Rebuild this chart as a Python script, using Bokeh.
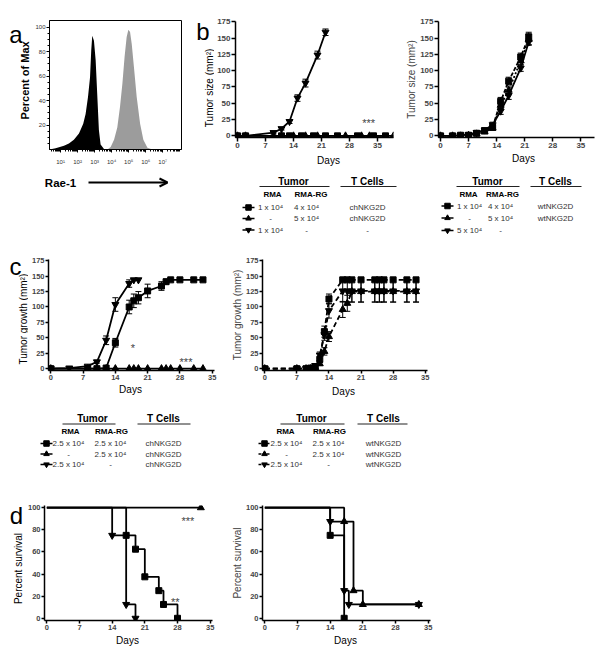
import math
from bokeh.plotting import figure
from bokeh.layouts import column, row
from bokeh.models import (Range1d, FixedTicker, Label, Arrow, OpenHead,
                          Whisker, TeeHead, ColumnDataSource)
from bokeh.embed import file_html
from bokeh.resources import INLINE
from bokeh.core.properties import value

FONT = "Liberation Sans"

# ---------------- data ----------------
# a: Rae-1 flow histogram (log10 fluorescence, % of max)
a_ctrl_log = [0.35, 0.71, 1.2, 1.49, 1.78, 2.08, 2.33, 2.47, 2.61, 2.73, 2.8, 2.86, 2.96, 3.06, 3.16, 3.25, 3.35, 3.55, 3.7]
a_ctrl_pct = [0, 1, 3, 5, 8, 13, 21, 29, 43, 59, 81, 93, 89, 73, 43, 16, 4, 0.5, 0]
a_rae_log = [3.75, 3.94, 4.14, 4.33, 4.49, 4.63, 4.76, 4.88, 4.98, 5.08, 5.18, 5.31, 5.47, 5.67, 5.86, 6.1, 6.39]
a_rae_pct = [0, 2, 8, 18, 35, 54, 76, 92, 98, 96, 86, 67, 43, 21, 8, 1.5, 0]
a_xticks = [1, 2, 3, 4, 5, 6, 7]
a_xlabels = ["10¹", "10²", "10³", "10⁴", "10⁵", "10⁶", "10⁷"]
a_yticks = [20, 40, 60, 80, 100]

day_ticks = [0, 7, 14, 21, 28, 35]
size_ticks = [0, 25, 50, 75, 100, 125, 150, 175]
surv_ticks = [0, 20, 40, 60, 80, 100]

# b left: chNKG2D
b1_sq_days = [0, 2, 11, 13, 16, 19, 22, 25, 30, 34, 37]
b1_sq_size = [0, 0, 0, 0, 0, 0, 0, 0, 0, 0, 0]
b1_up_days = [0, 2, 9, 11, 14, 17, 20, 27, 31, 33, 39]
b1_up_size = [0, 0, 0, 0, 0, 0, 0, 0, 0, 0, 0]
b1_dn_days = [0, 2, 9, 11, 13, 15, 17, 20, 22]
b1_dn_size = [0, 0, 5, 11, 22, 58, 81, 124, 159]
b1_dn_err = [0, 0, 2, 2, 3, 5, 6, 6, 5]

# b right: wtNKG2D
b2_days = [0, 3, 5, 7, 9, 11, 13, 15, 17, 20, 22]
b2_sq_size = [0, 0, 1, 1, 4, 8, 13, 53, 84, 121, 152]
b2_sq_err = [0, 0, 1, 1, 2, 3, 4, 6, 6, 6, 7]
b2_up_size = [0, 0, 0, 1, 3, 6, 12, 47, 70, 115, 148]
b2_up_err = [0, 0, 0, 1, 1, 2, 3, 5, 5, 6, 8]
b2_dn_size = [0, 0, 1, 2, 5, 9, 17, 38, 62, 104, 144]
b2_dn_err = [0, 0, 1, 1, 2, 3, 4, 5, 6, 5, 5]

# c left: chNKG2D
c1_sq_days = [0, 8, 10, 12, 14, 17, 18, 19, 21, 24, 25, 26, 28, 31, 33]
c1_sq_size = [0, 0, 0, 1, 42, 100, 110, 115, 126, 134, 141, 144, 144, 144, 144]
c1_sq_err = [0, 0, 0, 0, 7, 11, 11, 10, 11, 7, 4, 0, 0, 0, 0]
c1_dn_days = [0, 4, 8, 10, 12, 14, 17, 18, 19]
c1_dn_size = [0, 1, 4, 11, 46, 104, 138, 144, 144]
c1_dn_err = [0, 0, 1, 2, 7, 11, 6, 0, 0]
c1_up_days = [0, 8, 10, 12, 14, 17, 18, 19, 21, 24, 25, 26, 28, 31, 33]
c1_up_size = [0, 0, 0, 0, 0, 0, 0, 0, 0, 0, 0, 0, 0, 0, 0]

# c right: wtNKG2D
c2_days = [0, 7, 9, 10, 11, 12, 13, 14, 17, 18, 19, 21, 24, 25, 26, 28, 31, 33]
c2_sq_size = [0, 0, 0, 1, 3, 15, 60, 113, 144, 144, 144, 144, 144, 144, 144, 144, 144, 144]
c2_sq_err = [0, 0, 0, 1, 2, 5, 9, 8, 0, 0, 0, 0, 0, 0, 0, 0, 0, 0]
c2_dn_size = [0, 0, 0, 1, 5, 22, 55, 94, 126, 126, 126, 126, 126, 126, 126, 126, 126, 126]
c2_dn_err = [0, 0, 0, 1, 2, 5, 9, 12, 18, 18, 18, 18, 18, 18, 18, 18, 18, 18]
c2_up_size = [0, 0, 0, 0, 2, 8, 28, 52, 96, 106, 125, 125, 125, 125, 125, 125, 125, 125]
c2_up_err = [0, 0, 0, 0, 1, 3, 6, 8, 13, 13, 17, 17, 17, 17, 17, 17, 17, 17]

# d: survival
d1_sq_t = [0, 17, 19, 21, 24, 25, 28]
d1_sq_s = [100, 75, 62.5, 37.5, 25, 12.5, 0]
d1_up_t = [0, 33]
d1_up_s = [100, 100]
d1_dn_t = [0, 14, 17, 19]
d1_dn_s = [100, 75, 12.5, 0]
d2_sq_t = [0, 14, 17]
d2_sq_s = [100, 75, 0]
d2_dn_t = [0, 14, 17, 18, 33]
d2_dn_s = [100, 87.5, 25, 12.5, 12.5]
d2_up_t = [0, 17, 19, 21, 33]
d2_up_s = [100, 87.5, 25, 12.5, 12.5]

# legend tables
b_tab_left = [["1 x 10⁴", "4 x 10⁴", "chNKG2D"], ["-", "5 x 10⁴", "chNKG2D"], ["1 x 10⁴", "-", "-"]]
b_tab_right = [["1 x 10⁴", "4 x 10⁴", "wtNKG2D"], ["-", "5 x 10⁴", "wtNKG2D"], ["5 x 10⁴", "-", ""]]
c_tab_left = [["2.5 x 10⁴", "2.5 x 10⁴", "chNKG2D"], ["-", "2.5 x 10⁴", "chNKG2D"], ["2.5 x 10⁴", "-", "chNKG2D"]]
c_tab_right = [["2.5 x 10⁴", "2.5 x 10⁴", "wtNKG2D"], ["-", "2.5 x 10⁴", "wtNKG2D"], ["2.5 x 10⁴", "-", "wtNKG2D"]]
row_markers = ["square", "triangle", "inverted_triangle"]

# ---------------- helpers ----------------
GEO = {}


def chart(name, box, frame, xr, yr, xticks, yticks, ytitle=None, tick_size="8px",
          tick_out=4):
    bx, by, bw, bh = box
    L, T, R, B = frame
    p = figure(width=bw, height=bh, x_range=Range1d(*xr), y_range=Range1d(*yr),
               output_backend="svg", toolbar_location=None,
               min_border_left=L - bx, min_border_right=bx + bw - R,
               min_border_top=T - by, min_border_bottom=by + bh - B)
    p.outline_line_color = None
    p.xgrid.visible = False
    p.ygrid.visible = False
    for ax, t in ((p.xaxis, xticks), (p.yaxis, yticks)):
        ax.ticker = FixedTicker(ticks=t)
        ax.minor_tick_line_color = None
        ax.major_tick_in = 0
        ax.major_tick_out = tick_out
        ax.major_tick_line_width = 1.5
        ax.axis_line_width = 1.5
        ax.major_label_text_font = FONT
        ax.major_label_text_font_size = tick_size
        ax.major_label_text_font_style = "bold"
        ax.major_label_standoff = 1
    if ytitle:
        p.yaxis.axis_label = ytitle
        p.yaxis.axis_label_text_font = FONT
        p.yaxis.axis_label_text_font_size = "10px"
        p.yaxis.axis_label_text_font_style = "normal"
        p.yaxis.axis_label_standoff = 0
    GEO[name] = (L, T, R, B, xr, yr)
    return p


def to_data(name, rx, ry):
    L, T, R, B, xr, yr = GEO[name]
    x = xr[0] + (rx - L) * (xr[1] - xr[0]) / (R - L)
    y = yr[0] + (B - ry) * (yr[1] - yr[0]) / (B - T)
    return x, y


def put(p, name, rx, ry, text, size):
    x, y = to_data(name, rx, ry)
    p.add_layout(Label(x=x, y=y, text=text, text_font=FONT, text_font_size=size,
                       text_align="center", text_baseline="middle"))


def series(p, x, y, marker, size, dash="solid", err=None):
    p.line(x, y, line_color="black", line_width=1.8, line_dash=dash)
    if err is not None:
        xs = [a for a, e in zip(x, err) if e > 0]
        up = [v + e for v, e in zip(y, err) if e > 0]
        lo = [v - e for v, e in zip(y, err) if e > 0]
        src = ColumnDataSource(dict(x=xs, upper=up, lower=lo))
        p.add_layout(Whisker(source=src, base="x", upper="upper", lower="lower",
                             line_color="black", line_width=1,
                             upper_head=TeeHead(size=6, line_width=1, line_color="black"),
                             lower_head=TeeHead(size=6, line_width=1, line_color="black")))
    p.scatter(x, y, marker=marker, size=size, color="black")


def survival(p, t, s, marker, size):
    p.step(t, s, mode="after", line_color="black", line_width=1.8)
    p.scatter(t[1:], s[1:], marker=marker, size=size, color="black")


def canvas(box):
    bx, by, bw, bh = box
    p = figure(width=bw, height=bh, x_range=Range1d(bx, bx + bw),
               y_range=Range1d(by + bh, by), output_backend="svg",
               toolbar_location=None, min_border=0,
               x_axis_type=None, y_axis_type=None)
    p.outline_line_color = None
    return p


def ctext(p, xs, ys, texts, size, style="normal", color="black", align="center",
          angle=0.0):
    p.text(x=xs, y=ys, text=texts, text_font=value(FONT), text_font_size=size,
           text_font_style=style, text_color=color, text_align=align,
           text_baseline="middle", angle=angle)


def table(p, spec, rows, dashed):
    ctext(p, [spec["tumor"], spec["tcell"]], [spec["head_y"]] * 2,
          ["Tumor", "T Cells"], "10px", "bold")
    ul = spec["head_y"] + 5.5
    p.segment(x0=[spec["tumor_ul"][0], spec["tcell_ul"][0]], y0=[ul, ul],
              x1=[spec["tumor_ul"][1], spec["tcell_ul"][1]], y1=[ul, ul],
              line_color="#222222", line_width=1)
    ctext(p, spec["sub_x"], [spec["sub_y"]] * 2, ["RMA", "RMA-RG"], "8px", "bold")
    mx = spec["marker_x"]
    for i, (yy, cells) in enumerate(zip(spec["rows_y"], rows)):
        p.segment(x0=[mx - 6], y0=[yy], x1=[mx + 6], y1=[yy], line_color="black",
                  line_width=1.5, line_dash="3 1" if dashed else "solid")
        p.scatter([mx], [yy], marker=row_markers[i], size=5.5, color="black")
        ctext(p, spec["col_x"], [yy] * 3, cells, "8px", color="#333333")


# ---------------- panel a ----------------
strip_a = canvas((0, 0, 30, 172))
ctext(strip_a, [15.5], [19], ["a"], "24px")
ctext(strip_a, [24], [80], ["Percent of Max"], "11px", style="bold", angle=math.pi / 2)

pa = figure(width=166, height=172, x_range=Range1d(0.35, 8.1), y_range=Range1d(0, 105.5),
            output_backend="svg", toolbar_location=None,
            min_border_left=19, min_border_right=15, min_border_top=20, min_border_bottom=23)
pa.xgrid.visible = False
pa.ygrid.visible = False
pa.outline_line_color = "black"
pa.outline_line_width = 1
pa.varea(x=a_ctrl_log, y1=[0] * len(a_ctrl_log), y2=a_ctrl_pct, fill_color="black")
pa.varea(x=a_rae_log, y1=[0] * len(a_rae_log), y2=a_rae_pct, fill_color="#9c9c9c")
minor_x = [math.log10(k * 10 ** n) for n in range(0, 9) for k in range(2, 10)]
pa.xaxis.ticker = FixedTicker(ticks=a_xticks, minor_ticks=[m for m in minor_x if m < 8.1])
pa.xaxis.major_label_overrides = dict(zip(a_xticks, a_xlabels))
pa.yaxis.ticker = FixedTicker(ticks=a_yticks, minor_ticks=list(range(5, 105, 5)))
for ax in (pa.xaxis, pa.yaxis):
    ax.axis_line_width = 1
    ax.major_tick_in = 0
    ax.major_tick_out = 3
    ax.minor_tick_in = 0
    ax.minor_tick_out = 2
    ax.major_label_text_font = FONT
    ax.major_label_text_font_size = "6px"
    ax.major_label_text_color = "#333333"
pa.xaxis.major_label_standoff = 6
pa.yaxis.major_label_standoff = 1

canvas_a2 = canvas((0, 172, 196, 64))
ctext(canvas_a2, [60], [182], ["Rae-1"], "11.5px", style="bold")
canvas_a2.add_layout(Arrow(end=OpenHead(size=8, line_width=2, line_color="black"),
                           x_start=88, y_start=182, x_end=167, y_end=182,
                           line_width=2, line_color="black"))

# ---------------- panel b ----------------
strip_b = canvas((196, 0, 18, 152))
ctext(strip_b, [202.5], [12.5], ["b"], "24px")
ctext(strip_b, [209], [87], ["Tumor size (mm²)"], "10px", angle=math.pi / 2)

pb1 = chart("b1", (214, 0, 189, 152), (234, 21, 393, 137), (-0.5, 39), (-2.5, 175.5),
            day_ticks, size_ticks)
series(pb1, b1_sq_days, b1_sq_size, "square", 6)
series(pb1, b1_up_days, b1_up_size, "triangle", 7)
series(pb1, b1_dn_days, b1_dn_size, "inverted_triangle", 7, err=b1_dn_err)
put(pb1, "b1", 368, 122, "***", "11px")

pb2 = chart("b2", (403, 0, 198, 152), (433, 21, 594, 137), (-0.5, 38.4), (-2.5, 175.5),
            day_ticks, size_ticks, ytitle="Tumor size (mm²)")
series(pb2, b2_days, b2_sq_size, "square", 6, dash="4 2", err=b2_sq_err)
series(pb2, b2_days, b2_up_size, "triangle", 7, dash="2 2", err=b2_up_err)
series(pb2, b2_days, b2_dn_size, "inverted_triangle", 7, err=b2_dn_err)

tb = canvas((196, 152, 405, 84))
ctext(tb, [328, 523], [160, 158], ["Days", "Days"], "10px")
table(tb, dict(tumor=293, tcell=367, head_y=180.5, tumor_ul=(259, 329), tcell_ul=(340, 396),
               sub_x=[272, 310.5], sub_y=194, rows_y=[207, 218, 229.5], marker_x=248,
               col_x=[270, 306, 367]), b_tab_left, False)
table(tb, dict(tumor=487, tcell=555, head_y=180.5, tumor_ul=(456, 519), tcell_ul=(530, 581),
               sub_x=[468, 502], sub_y=194, rows_y=[205.5, 217.5, 230], marker_x=447,
               col_x=[469, 500, 555]), b_tab_right, False)

# ---------------- panel c ----------------
strip_c = canvas((0, 236, 28, 147))
ctext(strip_c, [15], [245], ["c"], "24px")
ctext(strip_c, [23], [315], ["Tumor growth (mm²)"], "10px", angle=math.pi / 2)

pc1 = chart("c1", (28, 236, 200, 147), (45, 259, 214, 370), (-0.5, 35.5), (-3, 177),
            day_ticks, size_ticks, tick_size="7.5px", tick_out=3)
series(pc1, c1_up_days, c1_up_size, "triangle", 7)
series(pc1, c1_sq_days, c1_sq_size, "square", 6, err=c1_sq_err)
series(pc1, c1_dn_days, c1_dn_size, "inverted_triangle", 7, err=c1_dn_err)
put(pc1, "c1", 131, 347, "*", "11px")
put(pc1, "c1", 185, 361, "***", "11px")

pc2 = chart("c2", (228, 236, 225, 147), (260, 259, 427, 370), (-0.5, 35.5), (-3, 177),
            day_ticks, size_ticks, ytitle="Tumor growth (mm²)", tick_size="7.5px", tick_out=3)
series(pc2, c2_days, c2_sq_size, "square", 6, dash="5 3", err=c2_sq_err)
series(pc2, c2_days, c2_dn_size, "inverted_triangle", 7, dash="5 3", err=c2_dn_err)
series(pc2, c2_days, c2_up_size, "triangle", 7, dash="5 3", err=c2_up_err)

tc = canvas((0, 383, 453, 93))
ctext(tc, [130, 343], [389, 391], ["Days", "Days"], "10px")
table(tc, dict(tumor=92, tcell=163, head_y=418, tumor_ul=(62, 115), tcell_ul=(137, 190),
               sub_x=[70, 111], sub_y=431, rows_y=[443, 453.5, 464], marker_x=46,
               col_x=[68, 110, 163]), c_tab_left, False)
table(tc, dict(tumor=311, tcell=383, head_y=418, tumor_ul=(280, 344), tcell_ul=(357, 407),
               sub_x=[285, 329], sub_y=431, rows_y=[443, 453.5, 464], marker_x=264,
               col_x=[286, 328, 383]), c_tab_right, True)

# ---------------- panel d ----------------
strip_d = canvas((0, 476, 24, 157))
ctext(strip_d, [16], [490], ["d"], "24px")
ctext(strip_d, [18], [562], ["Percent survival"], "10px", angle=math.pi / 2)

pd1 = chart("d1", (24, 476, 204, 157), (41, 505, 212, 620), (-0.5, 35.5), (-2, 102),
            day_ticks, surv_ticks, tick_size="7.5px", tick_out=3)
survival(pd1, d1_up_t, d1_up_s, "triangle", 7)
survival(pd1, d1_sq_t, d1_sq_s, "square", 6)
survival(pd1, d1_dn_t, d1_dn_s, "inverted_triangle", 7)
put(pd1, "d1", 187, 520, "***", "11px")
put(pd1, "d1", 174, 601, "**", "11px")

pd2 = chart("d2", (228, 476, 225, 157), (260, 505, 430, 620), (-0.5, 35.5), (-2, 102),
            day_ticks, surv_ticks, ytitle="Percent survival", tick_size="7.5px", tick_out=3)
survival(pd2, d2_sq_t, d2_sq_s, "square", 6)
survival(pd2, d2_dn_t, d2_dn_s, "inverted_triangle", 7)
survival(pd2, d2_up_t, d2_up_s, "triangle", 7)

d_days = canvas((0, 633, 453, 17))
ctext(d_days, [127, 345], [640, 640], ["Days", "Days"], "10px")

layout = column(
    row(column(row(strip_a, pa), canvas_a2),
        column(row(strip_b, pb1, pb2), tb)),
    row(strip_c, pc1, pc2),
    tc,
    row(strip_d, pd1, pd2),
    d_days,
)

open("out.html", "w").write(file_html(layout, INLINE))
